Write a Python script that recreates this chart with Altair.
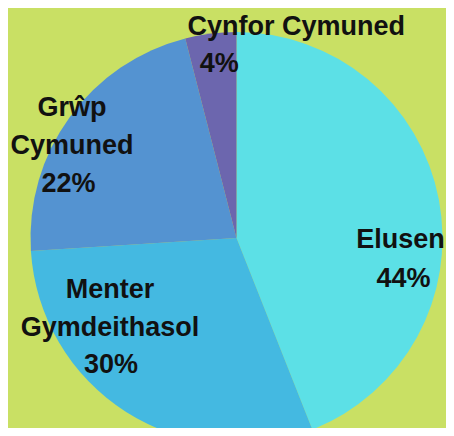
import altair as alt
import pandas as pd

categories = ["Elusen", "Menter Gymdeithasol", "Grŵp Cymuned", "Cynfor Cymuned"]
values = [44, 30, 22, 4]
name_labels = ["Elusen", "Menter\nGymdeithasol", "Grŵp\nCymuned", "Cynfor Cymuned"]
pct_labels = ["44%", "30%", "22%", "4%"]
colors = ["#5ce0e6", "#44b9e1", "#5493d1", "#6c66ae"]

df = pd.DataFrame({
    "idx": list(range(len(categories))),
    "category": categories,
    "value": values,
    "name": name_labels,
    "pct": pct_labels,
})

# label placement: (radius, name dx, name dy, pct dx, pct dy)
placement = [
    (172, -5, 42, -2, 81),
    (140, -51.5, -58, -50.5, 17),
    (170, -27, -22, -30.5, 54),
    (170, 81, -34, 4, 3),
]

theta_scale = alt.Scale(domain=[0, 100])

base = alt.Chart(df).transform_window(
    cum="sum(value)", sort=[{"field": "idx"}], frame=[None, 0]
).transform_calculate(mid="datum.cum - datum.value / 2")

pie = base.mark_arc(radius=206).encode(
    theta=alt.Theta("value:Q", stack=True, scale=theta_scale),
    order=alt.Order("idx:Q"),
    color=alt.Color("category:N", scale=alt.Scale(domain=categories, range=colors), legend=None),
)

layers = [pie]
text_style = dict(font="Liberation Sans", fontSize=27, fontWeight="bold", color="#111111",
                  align="center", baseline="alphabetic", lineBreak="\n", lineHeight=38)
for i, (r, ndx, ndy, pdx, pdy) in enumerate(placement):
    sub = base.transform_filter(alt.datum.idx == i)
    layers.append(sub.mark_text(radius=r, dx=ndx, dy=ndy, **text_style).encode(
        theta=alt.Theta("mid:Q", scale=theta_scale), text="name:N"))
    layers.append(sub.mark_text(radius=r, dx=pdx, dy=pdy, **text_style).encode(
        theta=alt.Theta("mid:Q", scale=theta_scale), text="pct:N"))

chart = alt.layer(*layers).properties(
    width=419, height=380,
    padding={"left": 19, "top": 40, "right": 0, "bottom": 0},
    autosize=alt.AutoSizeParams(type="none"),
).configure(background="#c9e064").configure_view(strokeWidth=0)

chart.save("out.html", embed_options={"renderer": "svg", "actions": False})
